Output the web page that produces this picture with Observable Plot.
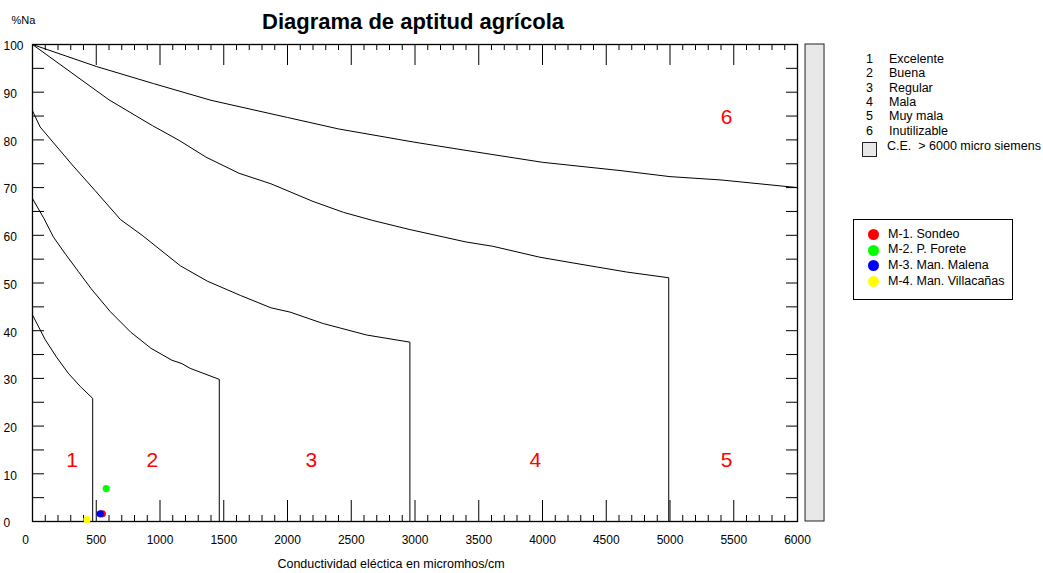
<!DOCTYPE html>
<html><head><meta charset="utf-8">
<script src="https://cdn.jsdelivr.net/npm/d3@7"></script>
<script src="https://cdn.jsdelivr.net/npm/@observablehq/plot@0.6"></script>
<style>
html,body{margin:0;padding:0;background:#fff;overflow:hidden;}
#wrap{position:relative;width:1043px;height:573px;font-family:"Liberation Sans",Arial,sans-serif;color:#000;}
.abs{position:absolute;white-space:nowrap;line-height:1;}
</style></head><body>
<div id="wrap"></div>
<script>
// ---- data ----
const curve1 = [[0,43.3],[100,38.1],[190,34.4],[280,31.1],[375,28.3],[472,25.8],[472,0]];
const curve2 = [[0,67.7],[90,63.5],[165,59.6],[260,56.0],[360,52.4],[460,48.8],[610,44.0],[770,39.7],[930,36.3],[1094,33.8],[1172,33.1],[1237,32.1],[1465,29.8],[1465,0]];
const curve3 = [[0,86.1],[60,82.7],[320,74.5],[490,69.4],[690,63.3],[860,60.0],[1160,53.6],[1370,50.4],[1630,47.4],[1870,44.8],[2020,43.9],[2280,41.5],[2620,39.1],[2960,37.6],[2960,0]];
const curve4 = [[0,100],[600,88.4],[940,83.0],[1150,79.9],[1360,76.4],[1620,73.0],[1870,70.8],[2200,67.1],[2440,64.8],[2670,63.1],[2960,61.2],[3400,58.6],[3610,57.7],[3980,55.4],[4240,54.2],[4660,52.3],[4990,51.1],[4990,0]];
const curve5 = [[0,100],[500,95.4],[950,91.8],[1400,88.3],[2000,84.7],[2400,82.3],[3000,79.5],[3400,77.8],[4000,75.3],[4600,73.6],[5000,72.3],[5400,71.6],[6000,70.0]];

const regionLabels = ["1","2","3","4","5","6"];
const regionCE = [311, 939, 2187, 3944, 5443, 5443];
const regionNa = [12.8, 12.8, 12.8, 12.8, 12.8, 84.7];
const qualityNames = ["Excelente","Buena","Regular","Mala","Muy mala","Inutilizable"];

const sampleNames = ["M-1. Sondeo","M-2. P. Forete","M-3. Man. Malena","M-4. Man. Villacañas"];
const sampleCE = [548, 578, 531, 427];
const sampleNa = [1.6, 6.9, 1.6, 0.4];
const sampleColors = ["#ff0000","#00ff00","#0000ff","#ffff00"];

const xTickLabels = [0,500,1000,1500,2000,2500,3000,3500,4000,4500,5000,5500,6000];
const yTickLabels = [0,10,20,30,40,50,60,70,80,90,100];
const ceBand = [{x1: 6063, x2: 6212, y1: 0, y2: 100}]; // C.E. > 6000 band
const titleText = "Diagrama de aptitud agrícola";
const xTitle = "Conductividad eléctica en micromhos/cm";
const yTitle = "%Na";
const ceLegend = "C.E.  > 6000 micro siemens";

// ---- build tables ----
const curves = [curve1, curve2, curve3, curve4, curve5];
const curveRows = curves.flatMap((c, i) => c.map(([ce, na]) => ({curve: i + 1, ce, na})));
const regions = regionLabels.map((t, i) => ({t, ce: regionCE[i], na: regionNa[i]}));
const samples = sampleNames.map((n, i) => ({n, ce: sampleCE[i], na: sampleNa[i], color: sampleColors[i]}));
const xMajor = d3.range(500, 6000, 500);
const xMinor = d3.range(100, 6000, 100).filter(v => v % 500 !== 0);
const yMinor = d3.range(5, 100, 5);

const W = 1043, H = 573, mL = 32, mR = 246, mT = 44, mB = 52;
const pw = W - mL - mR, ph = H - mT - mB;
const font = '"Liberation Sans", Arial, sans-serif';

const chart = Plot.plot({
  width: W, height: H,
  marginLeft: mL, marginRight: mR, marginTop: mT, marginBottom: mB,
  x: {domain: [0, 6000], axis: null},
  y: {domain: [0, 100], axis: null},
  color: {type: "identity"},
  style: {fontFamily: font, background: "white", color: "#000"},
  marks: [
    Plot.rect(ceBand, {x1: "x1", x2: "x2", y1: "y1", y2: "y2", fill: "#e8e8e8", stroke: "#222", strokeWidth: 1}),
    // ticks
    Plot.ruleX(xMajor, {x: d => d, insetTop: ph - 21, stroke: "#000", strokeWidth: 1}),
    Plot.ruleX(xMinor, {x: d => d, insetTop: ph - 6, stroke: "#000", strokeWidth: 1}),
    Plot.ruleX(xMajor, {x: d => d, insetBottom: ph - 21, stroke: "#000", strokeWidth: 1}),
    Plot.ruleX(xMinor, {x: d => d, insetBottom: ph - 6, stroke: "#000", strokeWidth: 1}),
    Plot.ruleY(yMinor, {y: d => d, insetRight: pw - 12, stroke: "#000", strokeWidth: 1}),
    Plot.ruleY(yMinor, {y: d => d, insetLeft: pw - 11, stroke: "#000", strokeWidth: 1}),
    Plot.frame({stroke: "#000", strokeWidth: 1.3}),
    // boundaries
    Plot.line(curveRows, {x: "ce", y: "na", z: "curve", stroke: "#000", strokeWidth: 1}),
    // region labels
    Plot.text(regions, {x: "ce", y: "na", text: "t", fill: "#ff0000", fontSize: 21}),
    // samples
    Plot.dot(samples, {x: "ce", y: "na", r: 3.6, fill: "color"}),
    // tick labels
    Plot.text(yTickLabels, {y: d => d, text: d => String(d), frameAnchor: "left", textAnchor: "start", lineAnchor: "middle", dx: -29, dy: 2, fontSize: 12, fill: "#000"}),
    Plot.text(xTickLabels.filter(d => d > 0), {x: d => d, text: d => String(d), frameAnchor: "bottom", lineAnchor: "middle", dy: 19, fontSize: 12, fill: "#000"}),
    Plot.text(xTickLabels.filter(d => d === 0), {x: d => d, text: d => String(d), frameAnchor: "bottom", lineAnchor: "middle", dy: 19, dx: -7, fontSize: 12, fill: "#000"}),
    // axis titles & title
    Plot.text([xTitle], {text: d => d, frameAnchor: "bottom", lineAnchor: "middle", dy: 42, dx: -24, fontSize: 12.5, fill: "#000"}),
    Plot.text([yTitle], {text: d => d, frameAnchor: "top-left", lineAnchor: "middle", dx: -21, dy: -24, textAnchor: "start", fontSize: 11, fill: "#000"}),
    Plot.text([titleText], {text: d => d, frameAnchor: "top", lineAnchor: "middle", dy: -23, dx: -2, fontSize: 22, fontWeight: "bold", fill: "#000"})
  ]
});

const wrap = document.getElementById("wrap");
wrap.appendChild(chart);

function addDiv(html, css) {
  const d = document.createElement("div");
  d.className = "abs";
  d.innerHTML = html;
  Object.assign(d.style, css);
  wrap.appendChild(d);
  return d;
}

// quality legend
qualityNames.forEach((name, i) => {
  const cy = 60 + i * 14.3;
  addDiv(regionLabels[i], {left: "866px", top: (cy - 7) + "px", fontSize: "12.5px"});
  addDiv(name, {left: "889px", top: (cy - 7) + "px", fontSize: "12.5px"});
});
addDiv("", {left: "862px", top: "142px", width: "13px", height: "13px", background: "#e8e8e8", border: "1px solid #222"});
addDiv(ceLegend.replace(/  /g, "&nbsp; "), {left: "887px", top: "140px", fontSize: "12.5px"});

// sample legend
addDiv("", {left: "853px", top: "219px", width: "158px", height: "79px", border: "1px solid #000", background: "#fff"});
samples.forEach((s, i) => {
  const cy = 234.5 + i * 15.7;
  addDiv("", {left: (873.3 - 5.5) + "px", top: (cy - 5.5) + "px", width: "11px", height: "11px", borderRadius: "50%", background: s.color});
  addDiv(s.n, {left: "888px", top: (cy - 7) + "px", fontSize: "12.5px"});
});
</script>
</body></html>
